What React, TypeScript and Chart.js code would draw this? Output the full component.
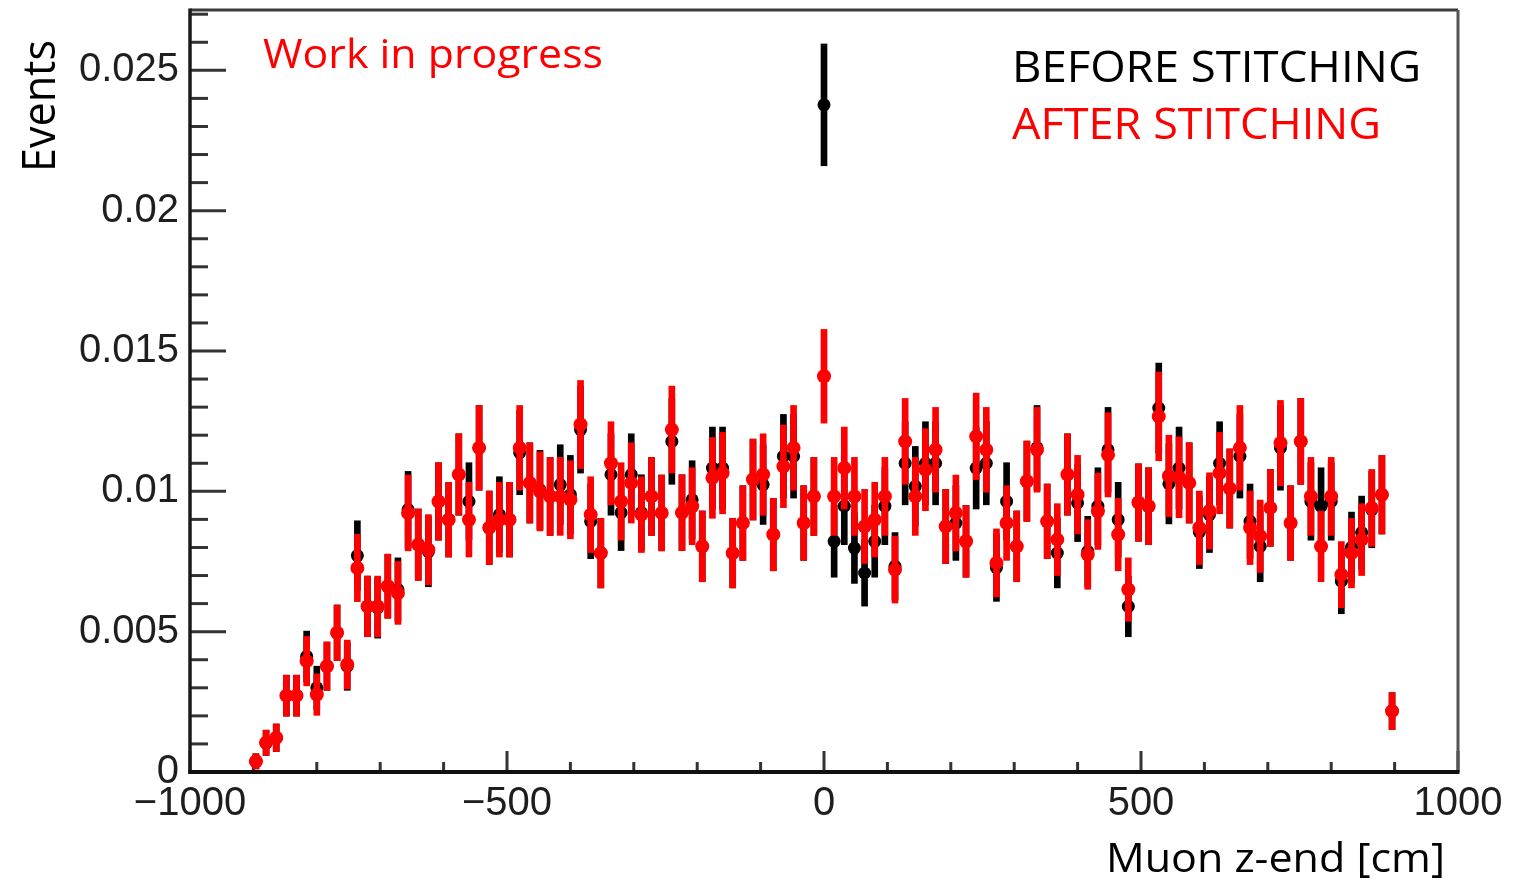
import React, { useEffect, useRef } from "react";
import { Chart, registerables } from "chart.js";

Chart.register(...registerables);

// Histogram bin centres (cm), 16 cm bins
const BIN_CENTERS = [
  -896, -880, -864, -848, -832, -816, -800, -784, -768, -752,
  -736, -720, -704, -688, -672, -656, -640, -624, -608, -592,
  -576, -560, -544, -528, -512, -496, -480, -464, -448, -432,
  -416, -400, -384, -368, -352, -336, -320, -304, -288, -272,
  -256, -240, -224, -208, -192, -176, -160, -144, -128, -112,
  -96, -80, -64, -48, -32, -16, 0, 16, 32, 48,
  64, 80, 96, 112, 128, 144, 160, 176, 192, 208,
  224, 240, 256, 272, 288, 304, 320, 336, 352, 368,
  384, 400, 416, 432, 448, 464, 480, 496, 512, 528,
  544, 560, 576, 592, 608, 624, 640, 656, 672, 688,
  704, 720, 736, 752, 768, 784, 800, 816, 832, 848,
  864, 880, 896,
];

// Values in units of 1e-3 (normalised events)
const BEFORE = [
  0.38, 1.04, 1.22, 2.72, 2.72, 4.12, 3.0, 3.77, 4.96, 3.77,
  7.71, 5.9, 5.85, 6.62, 6.5, 9.35, 8.1, 7.85, 9.64, 8.99,
  10.6, 9.64, 11.55, 8.7, 9.17, 8.99, 11.38, 10.3, 10.05, 9.82,
  10.24, 9.88, 12.2, 8.93, 7.8, 10.6, 9.24, 10.6, 9.24, 9.82,
  9.23, 11.78, 9.24, 9.7, 8.04, 10.83, 10.83, 7.8, 8.87, 10.42,
  10.24, 8.46, 11.25, 11.25, 8.87, 9.82, 23.77, 8.22, 9.47, 7.98,
  7.09, 8.22, 9.47, 7.33, 11.0, 10.18, 11.0, 11.0, 8.75, 8.87,
  8.22, 10.83, 11.0, 7.28, 9.64, 8.04, 10.36, 11.55, 8.93, 7.8,
  10.6, 9.59, 7.86, 9.47, 11.48, 8.99, 5.9, 9.6, 9.47, 12.97,
  10.27, 10.83, 10.3, 8.55, 9.17, 11.0, 10.1, 11.25, 8.93, 8.04,
  9.41, 11.55, 8.87, 11.78, 9.64, 9.47, 9.64, 6.8, 8.0, 8.53,
  9.35, 9.88, 2.17,
];
const BEFORE_ERR = [
  0.27, 0.45, 0.49, 0.73, 0.73, 0.9, 0.77, 0.86, 0.99, 0.86,
  1.24, 1.08, 1.08, 1.14, 1.13, 1.36, 1.27, 1.25, 1.38, 1.33,
  1.45, 1.38, 1.51, 1.31, 1.35, 1.33, 1.5, 1.43, 1.41, 1.39,
  1.42, 1.4, 1.55, 1.33, 1.24, 1.45, 1.35, 1.45, 1.35, 1.39,
  1.35, 1.53, 1.35, 1.39, 1.26, 1.46, 1.46, 1.24, 1.33, 1.44,
  1.42, 1.29, 1.49, 1.49, 1.33, 1.39, 2.17, 1.28, 1.37, 1.26,
  1.18, 1.28, 1.37, 1.2, 1.48, 1.42, 1.48, 1.48, 1.32, 1.33,
  1.28, 1.46, 1.48, 1.2, 1.38, 1.26, 1.43, 1.51, 1.33, 1.24,
  1.45, 1.38, 1.25, 1.37, 1.51, 1.33, 1.08, 1.38, 1.37, 1.6,
  1.43, 1.46, 1.43, 1.3, 1.35, 1.48, 1.41, 1.49, 1.33, 1.26,
  1.37, 1.51, 1.33, 1.53, 1.38, 1.37, 1.38, 1.16, 1.26, 1.3,
  1.36, 1.4, 0.66,
];
const AFTER = [
  0.38, 1.04, 1.22, 2.72, 2.72, 3.95, 2.76, 3.77, 4.96, 3.83,
  7.27, 5.9, 5.9, 6.62, 6.38, 9.23, 8.1, 7.92, 9.64, 8.99,
  10.6, 8.99, 11.55, 8.7, 8.99, 8.99, 11.55, 10.3, 10.0, 9.82,
  9.82, 9.7, 12.38, 9.17, 7.8, 11.0, 9.64, 10.3, 9.17, 9.82,
  9.23, 12.2, 9.24, 9.47, 8.04, 10.48, 10.65, 7.8, 8.87, 10.42,
  10.6, 8.46, 10.89, 11.55, 8.87, 9.82, 14.1, 9.82, 10.83, 9.82,
  8.75, 8.99, 9.82, 7.21, 11.78, 9.82, 10.77, 11.48, 8.75, 9.23,
  8.22, 11.96, 11.48, 7.45, 8.87, 8.04, 10.36, 11.48, 8.93, 8.28,
  10.6, 9.88, 7.75, 9.29, 11.3, 8.46, 6.5, 9.6, 9.47, 12.67,
  10.55, 10.5, 10.3, 8.7, 9.3, 10.65, 10.1, 11.55, 8.7, 8.4,
  9.41, 11.72, 8.87, 11.78, 9.82, 8.04, 9.82, 7.03, 7.8, 8.28,
  9.41, 9.88, 2.17,
];
const AFTER_ERR = [
  0.27, 0.45, 0.49, 0.73, 0.73, 0.88, 0.74, 0.86, 0.99, 0.87,
  1.2, 1.08, 1.08, 1.14, 1.12, 1.35, 1.27, 1.25, 1.38, 1.33,
  1.45, 1.33, 1.51, 1.31, 1.33, 1.33, 1.51, 1.43, 1.41, 1.39,
  1.39, 1.39, 1.57, 1.35, 1.24, 1.48, 1.38, 1.43, 1.35, 1.39,
  1.35, 1.55, 1.35, 1.37, 1.26, 1.44, 1.45, 1.24, 1.33, 1.44,
  1.45, 1.29, 1.47, 1.51, 1.33, 1.39, 1.67, 1.39, 1.46, 1.39,
  1.32, 1.33, 1.39, 1.19, 1.53, 1.39, 1.46, 1.51, 1.32, 1.35,
  1.28, 1.54, 1.51, 1.21, 1.33, 1.26, 1.43, 1.51, 1.33, 1.28,
  1.45, 1.4, 1.24, 1.36, 1.5, 1.29, 1.13, 1.38, 1.37, 1.58,
  1.45, 1.44, 1.43, 1.31, 1.36, 1.45, 1.41, 1.51, 1.31, 1.29,
  1.37, 1.52, 1.33, 1.53, 1.39, 1.26, 1.39, 1.18, 1.24, 1.28,
  1.37, 1.4, 0.66,
];

const UNIT = 1e-3;
const X_TICKS = [-1000, -500, 0, 500, 1000];
const Y_TICKS = [0, 0.005, 0.01, 0.015, 0.02, 0.025];
const X_MINOR_STEP = 100;
const Y_MINOR_STEP = 0.001;

const TICK_FONT = '"Liberation Sans", Arial, Helvetica, sans-serif';
const TEXT_FONT = '"Open Sans", "Noto Sans", sans-serif';

function drawFitted(
  ctx: CanvasRenderingContext2D,
  text: string,
  x: number,
  y: number,
  width: number,
  font: string,
  color: string
) {
  ctx.save();
  ctx.font = font;
  ctx.fillStyle = color;
  ctx.textAlign = "left";
  ctx.textBaseline = "alphabetic";
  const w = ctx.measureText(text).width;
  ctx.translate(x, y);
  ctx.scale(width / w, 1);
  ctx.fillText(text, 0, 0);
  ctx.restore();
}

function line(ctx: CanvasRenderingContext2D, x1: number, y1: number, x2: number, y2: number) {
  ctx.beginPath();
  ctx.moveTo(x1, y1);
  ctx.lineTo(x2, y2);
  ctx.stroke();
}

export default function App() {
  const ref = useRef<HTMLCanvasElement>(null);

  useEffect(() => {
    document.body.style.margin = "0";
    const canvas = ref.current;
    if (!canvas) return;

    const points = (vals: number[]) =>
      vals.map((v, i) => ({ x: BIN_CENTERS[i], y: v * UNIT }));
    const bars = (vals: number[], errs: number[]) =>
      vals.map((v, i) => ({
        x: BIN_CENTERS[i],
        y: [(v - errs[i]) * UNIT, (v + errs[i]) * UNIT],
      }));

    const framePlugin = {
      id: "rootFrame",
      beforeDatasetsDraw(chart: any) {
        const { ctx, chartArea: a, scales } = chart;
        const xs = scales.x;
        const ys = scales.y;
        ctx.save();
        ctx.lineCap = "butt";
        ctx.strokeStyle = "#333";
        ctx.lineWidth = 3;
        for (let i = 0; i * Y_MINOR_STEP <= ys.max + 1e-12; i++) {
          const py = ys.getPixelForValue(i * Y_MINOR_STEP);
          const len = i % 5 === 0 ? 36 : 18;
          line(ctx, a.left, py, a.left + len, py);
        }
        for (let v = xs.min; v <= xs.max; v += X_MINOR_STEP) {
          const px = xs.getPixelForValue(v);
          const len = Math.round(v) % 500 === 0 ? 21 : 10;
          line(ctx, px, a.bottom, px, a.bottom - len);
        }
        // frame
        ctx.strokeStyle = "#3a3a3a";
        ctx.lineWidth = 3;
        line(ctx, a.left, a.top, a.right, a.top);
        ctx.strokeStyle = "#555";
        line(ctx, a.right, a.top, a.right, a.bottom);
        ctx.strokeStyle = "#1a1a1a";
        ctx.lineWidth = 3.5;
        line(ctx, a.left, a.top - 1.5, a.left, a.bottom + 2);
        ctx.strokeStyle = "#111";
        ctx.lineWidth = 4;
        line(ctx, a.left - 1.5, a.bottom, a.right + 1.5, a.bottom);
        ctx.restore();
      },
      afterDraw(chart: any) {
        const { ctx } = chart;
        drawFitted(ctx, "Work in progress", 263, 68, 340, `41px ${TEXT_FONT}`, "#ff0000");
        drawFitted(ctx, "BEFORE STITCHING", 1012, 82, 409, `44px ${TEXT_FONT}`, "#000000");
        drawFitted(ctx, "AFTER STITCHING", 1012, 139, 369, `44px ${TEXT_FONT}`, "#ff0000");
        drawFitted(ctx, "Muon z-end [cm]", 1106, 872, 339, `40px ${TEXT_FONT}`, "#000000");
        ctx.save();
        ctx.translate(55, 172);
        ctx.rotate(-Math.PI / 2);
        drawFitted(ctx, "Events", 0, 0, 132, `45px ${TEXT_FONT}`, "#000000");
        ctx.restore();
      },
    };

    const chart = new Chart(canvas, {
      type: "scatter",
      data: {
        datasets: [
          {
            type: "bar",
            label: "before-err",
            data: bars(BEFORE, BEFORE_ERR) as any,
            backgroundColor: "#000000",
            barThickness: 6,
            grouped: false,
            borderWidth: 0,
            order: 4,
          } as any,
          {
            type: "scatter",
            label: "BEFORE STITCHING",
            data: points(BEFORE),
            backgroundColor: "#000000",
            pointRadius: 6.5,
            borderWidth: 0,
            order: 3,
          },
          {
            type: "bar",
            label: "after-err",
            data: bars(AFTER, AFTER_ERR) as any,
            backgroundColor: "#ff0000",
            barThickness: 6,
            grouped: false,
            borderWidth: 0,
            order: 2,
          } as any,
          {
            type: "scatter",
            label: "AFTER STITCHING",
            data: points(AFTER),
            backgroundColor: "#ff0000",
            pointRadius: 7,
            borderWidth: 0,
            order: 1,
          },
        ],
      },
      options: {
        animation: false,
        responsive: false,
        maintainAspectRatio: false,
        devicePixelRatio: 1,
        events: [],
        layout: { padding: { left: 0, top: 10, right: 71, bottom: 0 } },
        plugins: {
          legend: { display: false },
          tooltip: { enabled: false },
        },
        scales: {
          x: {
            type: "linear",
            min: -1000,
            max: 1000,
            offset: false,
            grid: { display: false, drawTicks: false },
            border: { display: false },
            afterBuildTicks: (s: any) => {
              s.ticks = X_TICKS.map((v) => ({ value: v }));
            },
            afterFit: (s: any) => {
              s.height = 109;
              s.paddingLeft = 0;
              s.paddingRight = 0;
            },
            ticks: {
              font: { family: TICK_FONT, size: 40 },
              color: "#1e1e1e",
              padding: 8,
              maxRotation: 0,
              autoSkip: false,
              includeBounds: false,
              callback: (v: any) =>
                Number(v) < 0 ? "\u2212" + Math.abs(Number(v)) : String(v),
            },
          },
          y: {
            type: "linear",
            min: 0,
            max: 0.02715,
            grid: { display: false, drawTicks: false },
            border: { display: false },
            afterBuildTicks: (s: any) => {
              s.ticks = Y_TICKS.map((v) => ({ value: v }));
            },
            afterFit: (s: any) => {
              s.width = 190;
              s.paddingTop = 0;
              s.paddingBottom = 0;
            },
            ticks: {
              font: { family: TICK_FONT, size: 40 },
              color: "#1e1e1e",
              padding: 11,
              autoSkip: false,
              includeBounds: false,
              callback: (v: any) => String(parseFloat(Number(v).toFixed(3))),
            },
          },
        },
      } as any,
      plugins: [framePlugin],
    });

    return () => chart.destroy();
  }, []);

  return (
    <div
      style={{
        position: "fixed",
        left: 0,
        top: 0,
        width: 1529,
        height: 881,
        background: "#ffffff",
      }}
    >
      <canvas
        ref={ref}
        width={1529}
        height={881}
        style={{ display: "block", width: 1529, height: 881 }}
      />
    </div>
  );
}
